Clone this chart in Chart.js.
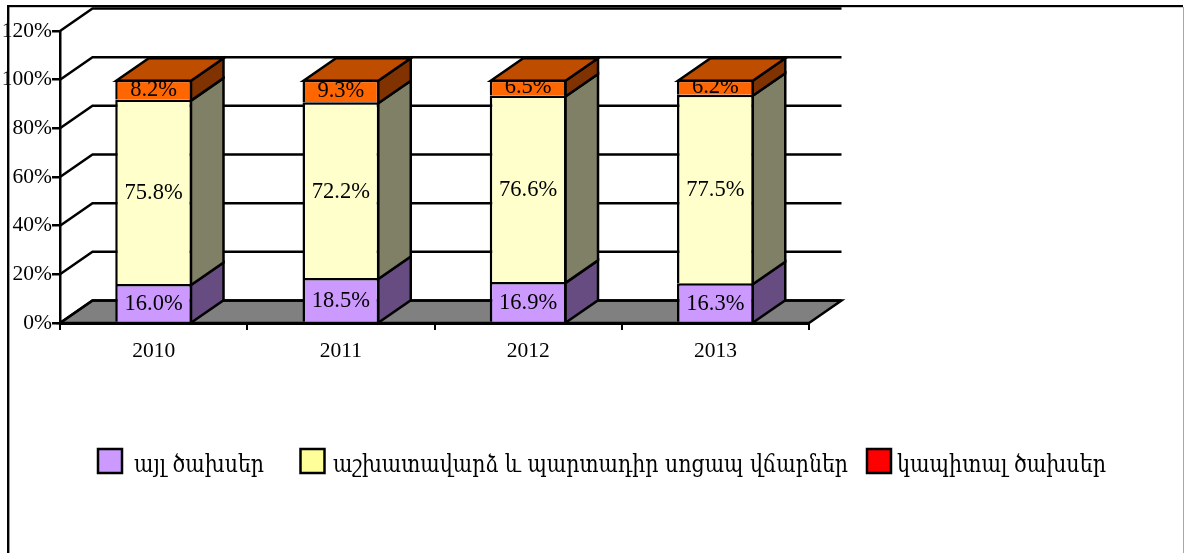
<!DOCTYPE html>
<html><head><meta charset="utf-8">
<style>html,body{margin:0;padding:0;background:#fff;overflow:hidden}canvas{display:block}</style>
<script src="https://cdn.jsdelivr.net/npm/chart.js@4"></script>
</head><body>
<div style="position:relative;width:1184px;height:553px"><canvas id="c"></canvas></div>
<script>
const categories = ['2010','2011','2012','2013'];
const otherCosts = [16.0,18.5,16.9,16.3];
const wagesCosts = [75.8,72.2,76.6,77.5];
const capitalCosts = [8.2,9.3,6.5,6.2];
const seriesNames = ['այլ ծախսեր','աշխատավարձ և պարտադիր սոցապ վճարներ','կապիտալ ծախսեր'];
const barColors = ['#CC99FF','#FFFFCC','#FF6600'];
const sideColors = ['#664C80','#808066','#803300'];
const topColor = '#BF4D00';
const legendColors = ['#CC99FF','#FFFF99','#FF0000'];
const legendSwatchX = [98,300.5,867];
const legendTextX = [134,333,897];
const legendTextW = [130,515,209];
const labelShift = [1.5,1.5,0];
const DX = 32.5, DY = -22.5;
const LW = 2.5;
const SERIF = '"Liberation Serif"';

const depth3d = {
  id:'depth3d',
  beforeDatasetsDraw(chart){
    const {ctx,scales:{x,y}} = chart;
    const L=x.left,R=x.right,Z=y.getPixelForValue(0);
    ctx.save();
    ctx.strokeStyle='#000';ctx.lineWidth=LW;ctx.lineJoin='miter';
    ctx.fillStyle='#808080';
    ctx.beginPath();ctx.moveTo(L,Z);ctx.lineTo(L+DX,Z+DY);ctx.lineTo(R+DX,Z+DY);ctx.lineTo(R,Z);ctx.closePath();ctx.fill();ctx.stroke();
    y.ticks.forEach(t=>{
      const p=y.getPixelForValue(t.value);
      ctx.beginPath();ctx.moveTo(L,p);ctx.lineTo(L+DX,p+DY);ctx.lineTo(R+DX,p+DY);ctx.stroke();
    });
    chart.data.datasets.forEach((ds,di)=>{
      chart.getDatasetMeta(di).data.forEach(b=>{
        const p=b.getProps(['x','y','base','width'],true);
        const r=p.x+p.width/2-1,l=p.x-p.width/2+1;
        ctx.fillStyle=sideColors[di];
        ctx.beginPath();ctx.moveTo(r,p.base+1);ctx.lineTo(r+DX,p.base+1+DY);ctx.lineTo(r+DX,p.y+1+DY);ctx.lineTo(r,p.y+1);ctx.closePath();ctx.fill();ctx.stroke();
        if(di===chart.data.datasets.length-1){
          ctx.fillStyle=topColor;
          ctx.beginPath();ctx.moveTo(l,p.y+1);ctx.lineTo(l+DX,p.y+1+DY);ctx.lineTo(r+DX,p.y+1+DY);ctx.lineTo(r,p.y+1);ctx.closePath();ctx.fill();ctx.stroke();
        }
      });
    });
    ctx.restore();
  },
  afterDatasetsDraw(chart){
    const {ctx}=chart;
    ctx.save();
    ctx.fillStyle='#000';ctx.textAlign='center';ctx.textBaseline='middle';ctx.font='22.5px '+SERIF;
    chart.data.datasets.forEach((ds,di)=>{
      chart.getDatasetMeta(di).data.forEach((b,i)=>{
        const p=b.getProps(['x','y','base','width'],true);
        ctx.save();
        ctx.beginPath();ctx.rect(p.x-p.width/2+2,p.y+1.5,p.width-4,p.base-p.y-1.5);ctx.clip();
        ctx.fillText(ds.data[i].toFixed(1)+'%',p.x,(p.y+p.base)/2+labelShift[di]);
        ctx.restore();
      });
    });
    ctx.restore();
  },
  afterDraw(chart){
    const {ctx}=chart;
    ctx.save();
    ctx.fillStyle='#000';
    ctx.fillRect(7,5,1176,2.2);
    ctx.fillRect(7,5,2.4,548);
    ctx.fillStyle='#a8a8a8';
    ctx.fillRect(1183,7,1,546);
    seriesNames.forEach((n,i)=>{
      ctx.fillStyle=legendColors[i];ctx.strokeStyle='#000';ctx.lineWidth=LW;
      ctx.fillRect(legendSwatchX[i],449,24,24);ctx.strokeRect(legendSwatchX[i],449,24,24);
      ctx.fillStyle='#000';ctx.textAlign='left';ctx.textBaseline='alphabetic';ctx.font='24px "DejaVu Serif"';
      ctx.fillText(n,legendTextX[i],472,legendTextW[i]);
    });
    ctx.restore();
  }
};

new Chart(document.getElementById('c'),{
  type:'bar',
  data:{labels:categories,datasets:[
    {label:seriesNames[0],data:otherCosts,backgroundColor:barColors[0],borderColor:'#000',borderWidth:LW},
    {label:seriesNames[1],data:wagesCosts,backgroundColor:barColors[1],borderColor:'#000',borderWidth:LW},
    {label:seriesNames[2],data:capitalCosts,backgroundColor:barColors[2],borderColor:'#000',borderWidth:LW}
  ]},
  options:{
    responsive:true,maintainAspectRatio:false,animation:false,
    layout:{autoPadding:false,padding:{left:0,top:31,right:375,bottom:0}},
    plugins:{legend:{display:false},tooltip:{enabled:false},title:{display:false}},
    datasets:{bar:{barPercentage:0.41,categoryPercentage:1}},
    scales:{
      x:{stacked:true,
        afterFit(s){s.height=230;},
        grid:{drawOnChartArea:false,color:'#000',lineWidth:2,tickLength:7,offset:true},
        border:{color:'#000',width:3},
        ticks:{color:'#000',font:{family:SERIF,size:21.5},padding:8,maxRotation:0}},
      y:{stacked:true,min:0,max:120,
        afterFit(s){s.width=60;},
        grid:{drawOnChartArea:false,color:'#000',lineWidth:2.5,tickLength:8},
        border:{color:'#000',width:2.5},
        ticks:{color:'#000',stepSize:20,font:{family:SERIF,size:21.5},padding:0,callback:v=>v+'%'}}
    }
  },
  plugins:[depth3d]
});
</script>
</body></html>
